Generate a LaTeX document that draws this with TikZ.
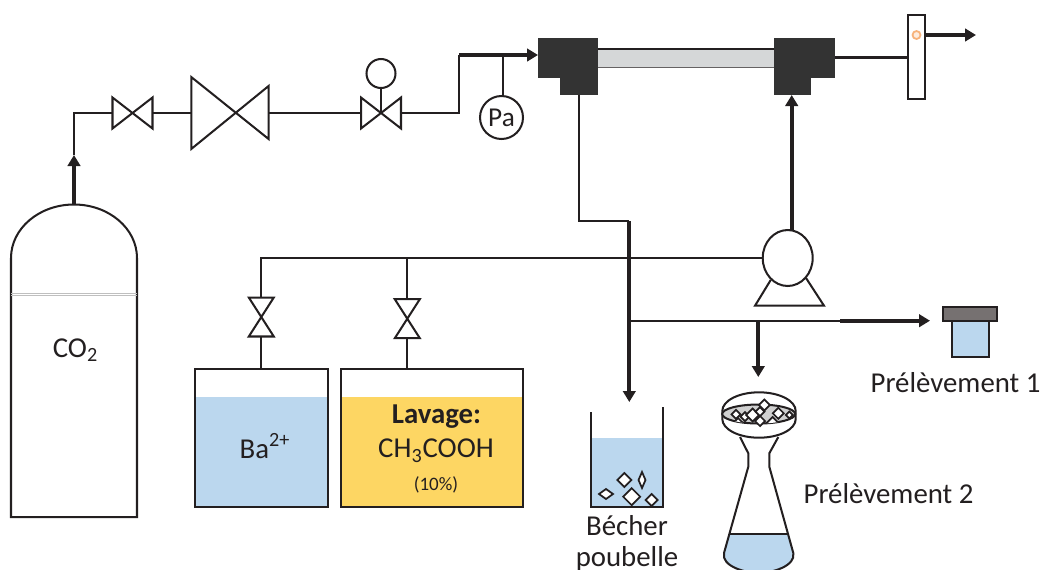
\documentclass[tikz,border=0pt]{standalone}
\usepackage{fontspec}
\setmainfont{Carlito}
\usetikzlibrary{arrows.meta,shapes.geometric}
\definecolor{encre}{HTML}{231F20}
\definecolor{bloc}{HTML}{333333}
\definecolor{bleu}{HTML}{BBD7EE}
\definecolor{jaune}{HTML}{FDD663}
\definecolor{tube}{HTML}{D5D7D8}
\definecolor{bouchon}{HTML}{767171}
\definecolor{cristal}{HTML}{D0D0D0}
\definecolor{voyant}{HTML}{F7B27A}
\tikzset{
	trait/.style={draw=encre, line width=1.15pt},
	flux/.style={draw=encre, line width=2.25pt, -{Triangle[length=0.22cm,width=0.25cm]}},
	boite/.style={inner sep=0pt, outer sep=0pt},
	texte/.style={inner sep=0pt, outer sep=0pt, anchor=base, text=encre, font=\fontsize{16.4}{19}\selectfont},
	losange/.style={fill=white, draw=encre, line width=1pt, line join=miter},
}
% papillon : vanne dessinee dans le cadre d'un noeud
\newcommand{\vanneH}[1]{\draw[trait] (#1.north west) -- (#1.south east) -- (#1.north east) -- (#1.south west) -- cycle;}
\newcommand{\vanneV}[1]{\draw[trait] (#1.north west) -- (#1.north east) -- (#1.south west) -- (#1.south east) -- cycle;}
\begin{document}
\begin{tikzpicture}[x=0.02cm, y=-0.02cm]
	\useasboundingbox (0,0) rectangle (1043,569);
	% bouteille
	\draw[trait] (11,258) arc[start angle=180, end angle=360, x radius=63, y radius=53.5] -- (137,517) -- (11,517) -- cycle;
	\draw[black!25, line width=0.4pt] (11,293) -- (137,293) (11,295) -- (137,295);
	\node[texte] (co2) at (75.5,357) {CO\textsubscript{2}};
	\coordinate (sortie) at (74,204);
	\coordinate (fleche) at (74,155);
	\coordinate (coude) at (74,113);
	% ligne de gaz
	\node[boite, minimum width=0.8cm, minimum height=0.62cm] (va) at (132.5,113) {};
	\vanneH{va}
	\node[boite, minimum width=1.55cm, minimum height=1.44cm] (vb) at (230,113) {};
	\draw[trait] (vb.north west) -- (268.6,139) -- (268.6,86) -- (vb.south west) -- cycle;
	\node[boite, minimum width=0.8cm, minimum height=0.62cm] (vc) at (381,113) {};
	\vanneH{vc}
	\node[boite, trait, circle, minimum size=0.58cm] (cadran) at (381,73.5) {};
	\node[boite, trait, circle, minimum size=0.86cm, font=\fontsize{15.5}{19}\selectfont, text=encre] (pa) at (501.5,117.5) {Pa};
	\coordinate (montee) at (459,113);
	\coordinate (haut) at (459,55);
	\coordinate (piquage) at (503,55);
	\draw[flux] (sortie) -- (fleche);
	\draw[trait] (fleche) -- (coude) -- (va.west);
	\draw[trait] (va.east) -- (vb.west);
	\draw[trait] (268.6,113) -- (vc.west);
	\draw[trait] (cadran) -- (vc.center);
	\draw[trait] (vc.east) -- (montee) -- (haut);
	\draw[trait] (piquage) -- (pa.north -| piquage);
	% reacteur
	\fill[tube] (598,48.7) rectangle (774,67.7);
	\draw[trait] (598,48.7) -- (774,48.7);
	\draw[encre!70, line width=0.9pt] (598,67.7) -- (774,67.7);
	\node[boite, fill=bloc, minimum width=1.2cm, minimum height=0.8cm] (bloca) at (568,57.5) {};
	\node[boite, fill=bloc, minimum width=0.76cm, minimum height=0.4cm] (sousa) at (579,85) {};
	\node[boite, fill=bloc, minimum width=1.22cm, minimum height=0.8cm] (blocb) at (804.5,57.5) {};
	\node[boite, fill=bloc, minimum width=0.74cm, minimum height=0.4cm] (sousb) at (792.5,85) {};
	\draw[flux] (haut) -- (bloca.west |- haut);
	% debitmetre
	\node[boite, trait, fill=white, minimum width=0.34cm, minimum height=1.68cm] (debit) at (916.5,57) {};
	\draw[voyant, fill=voyant!25, line width=1pt] (916.5,35) circle (4);
	\coordinate (evac) at (976,35);
	\draw[trait] (blocb.east) -- (debit.west |- blocb.east);
	\draw[flux] (debit.east |- evac) -- (evac);
	% pompe
	\draw[trait] (770.7,280) -- (755,305.7) -- (824,305.7) -- (806,278);
	\node[boite, trait, ellipse, minimum width=1cm, minimum height=1.12cm] (pompe) at (787.7,258) {};
	\coordinate (pompeh) at (791.7,230);
	\draw[flux] (pompeh) -- (sousb.south -| pompeh);
	% cuves
	\fill[bleu] (195,396.7) rectangle (327.7,507.3);
	\fill[jaune] (341,396.7) rectangle (522.7,507.3);
	\node[boite, trait, minimum width=2.65cm, minimum height=2.76cm] (cuvea) at (261.3,438.3) {};
	\node[boite, trait, minimum width=3.63cm, minimum height=2.76cm] (cuveb) at (431.8,438.3) {};
	\node[texte] (baryum) at (265,458) {Ba\textsuperscript{2+}};
	\node[texte] (lavage) at (436.5,423) {\textbf{Lavage:}};
	\node[texte] (acide) at (436,457.7) {CH\textsubscript{3}COOH};
	\node[texte, font=\fontsize{10.8}{12}\selectfont] (dix) at (436,490) {(10\%)};
	\node[boite, minimum width=0.5cm, minimum height=0.78cm] (vd) at (261.3,317) {};
	\vanneV{vd}
	\node[boite, minimum width=0.5cm, minimum height=0.78cm] (ve) at (407.3,318.7) {};
	\vanneV{ve}
	\coordinate (angle) at (261.3,258);
	\coordinate (depart) at (407.3,258);
	\draw[trait] (pompe.west) -- (angle) -- (vd.north);
	\draw[trait] (vd.south) -- (cuvea.north -| vd.south);
	\draw[trait] (depart) -- (ve.north);
	\draw[trait] (ve.south) -- (cuveb.north -| ve.south);
	% becher
	\fill[bleu] (591,438) rectangle (662.7,507.3);
	\draw[trait] (591,412) -- (591,507.3) -- (662.7,507.3) -- (662.7,406.7);
	\foreach \cx/\cy/\lx/\ly in {624.3/480/7/7, 642/480/3.5/8, 606/494/7/5, 631.7/496.7/8.5/8.5, 651.7/500/6/6}
		\draw[losange] (\cx-\lx,\cy) -- (\cx,\cy-\ly) -- (\cx+\lx,\cy) -- (\cx,\cy+\ly) -- cycle;
	\node[texte] (becher) at (627,535) {Bécher};
	\node[texte] (poubelle) at (627,566) {poubelle};
	% sortie pompe et vidange
	\coordinate (coudea) at (578.7,221);
	\coordinate (coudeb) at (629.3,221);
	\coordinate (pointe) at (629.3,402);
	\coordinate (jonction) at (629.3,320.7);
	\coordinate (epais) at (840,320.7);
	\coordinate (piquet) at (758.3,320.7);
	\draw[trait] (sousa.south -| coudea) -- (coudea) -- (coudeb);
	\draw[flux] (coudeb) -- (pointe);
	\draw[trait] (jonction) -- (epais);
	\coordinate (flacon) at (930,320.7);
	\draw[flux] (epais) -- (flacon);
	\coordinate (filtre) at (758.3,377);
	\draw[flux] (piquet) -- (filtre);
	% prelevement 1
	\node[boite, trait, fill=bleu, minimum width=0.745cm, minimum height=0.72cm] (fiole) at (970.6,339) {};
	\node[boite, trait, fill=bouchon, minimum width=1.09cm, minimum height=0.285cm] (capot) at (970,314) {};
	\node[texte] (prela) at (955.5,392.7) {Prélèvement 1};
	% prelevement 2
	\fill[bleu] (729.5,534.3) -- (724,553) .. controls (721,566) and (745,573) .. (758.7,573) .. controls (772,573) and (796,566) .. (793.3,553) -- (788,534.3) -- cycle;
	\draw[trait] (740,437) -- (748.3,453.3) -- (748.3,466.7) -- (724,553) .. controls (721,566) and (745,573) .. (758.7,573) .. controls (772,573) and (796,566) .. (793.3,553) -- (769.3,466.7) -- (769.3,453.3) -- (778.3,437);
	\draw[trait] (729.5,534.3) -- (788,534.3);
	\draw[trait, fill=white] (722.3,411) arc[start angle=180, end angle=360, x radius=36.7, y radius=18.7] -- (795.7,419) arc[start angle=0, end angle=180, x radius=36.7, y radius=18.7] -- cycle;
	\draw[trait, fill=cristal] (758.7,414) ellipse [x radius=36.5, y radius=9.5];
	\begin{scope}
		\clip (758.7,414) ellipse [x radius=36.5, y radius=9.5];
		\foreach \cx/\cy/\lx in {772.7/423/6, 738/423/5}
			\draw[losange] (\cx-\lx,\cy) -- (\cx,\cy-\lx) -- (\cx+\lx,\cy) -- (\cx,\cy+\lx) -- cycle;
	\end{scope}
	\foreach \cx/\cy/\lx in {764.3/405/5.5, 736/414.3/4.5, 745/416.7/4.5, 752.7/415/6.5, 760/411.7/4.5, 760/421/5, 778.3/413.3/5.5, 789.3/415/3.5}
		\draw[losange] (\cx-\lx,\cy) -- (\cx,\cy-\lx) -- (\cx+\lx,\cy) -- (\cx,\cy+\lx) -- cycle;
	\node[texte] (prelb) at (888.5,503) {Prélèvement 2};
\end{tikzpicture}
\end{document}
